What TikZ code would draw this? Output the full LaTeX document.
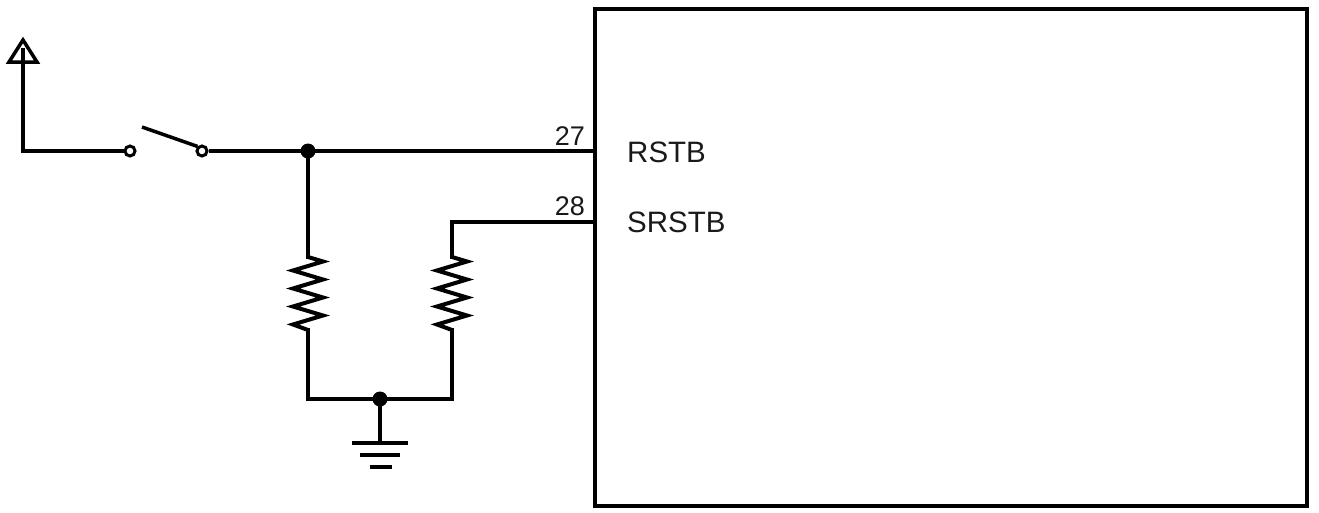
\documentclass[tikz,border=0pt]{standalone}
\usepackage{fontspec}
\setmainfont{Liberation Sans}
\begin{document}
\begin{tikzpicture}[x=1pt,y=-1pt,
  wire/.style={line width=3.5pt,line cap=rect,black},
  lead/.style={line width=4.5pt,black},
  dotnode/.style={circle,fill=black,inner sep=0pt,minimum size=15pt},
  opennode/.style={circle,draw=black,fill=white,line width=3pt,inner sep=0pt,minimum size=10pt},
  pinnum/.style={font=\fontsize{27}{30}\selectfont,text=black!90,anchor=base east,inner sep=0pt},
  pinname/.style={font=\fontsize{29.5}{34}\selectfont,text=black!90,anchor=base west,inner sep=0pt},
  gbar/.style={line width=4.5pt,black}]
\useasboundingbox (0,0) rectangle (1319,512);
% chip
\draw[line width=4pt] (595,9) rectangle (1307,506);
\coordinate (pinA) at (595,151);
\coordinate (pinB) at (595,222);
\node[pinnum] (n27) at (585,145) {27};
\node[pinnum] (n28) at (585,215) {28};
\node[pinname] (rstb) at (627,162) {RSTB};
\node[pinname] (srstb) at (627,232) {SRSTB};
% supply
\coordinate (vtop) at (23,50);
\coordinate (vcorner) at (23,151);
\draw[line width=3.5pt,line join=miter] (23,40) -- (37,62) -- (9,62) -- cycle;
\draw[wire] (vtop) -- (vcorner);
% switch
\coordinate (swl) at (93,151);
\coordinate (swr) at (240,151);
\node[opennode] (c1) at (130,151) {};
\node[opennode] (c2) at (202,151) {};
\draw[wire] (vcorner) -- (swl);
\draw[lead] (swl) -- (c1.west);
\draw[lead] (c2.east) -- (swr);
\draw[line width=3.5pt] (142,127) -- (c2.north west);
% junction
\node[dotnode] (j1) at (308,151) {};
\draw[wire] (swr) -- (j1);
\draw[wire] (j1) -- (pinA);
% resistor 1
\coordinate (r1t) at (308,257);
\coordinate (r1b) at (308,330);
\draw[wire] (j1) -- (r1t);
\draw[line width=4pt,line join=miter] (r1t) -- ++(15,4.5) -- ++(-30,9) -- ++(30,9) -- ++(-30,9) -- ++(30,9) -- ++(-30,9) -- ++(30,9) -- ++(-30,9) -- (r1b);
% resistor 2
\coordinate (r2c) at (452,222);
\coordinate (r2t) at (452,257);
\coordinate (r2b) at (452,330);
\draw[wire] (pinB) -- (r2c) -- (r2t);
\draw[line width=4pt,line join=miter] (r2t) -- ++(15,4.5) -- ++(-30,9) -- ++(30,9) -- ++(-30,9) -- ++(30,9) -- ++(-30,9) -- ++(30,9) -- ++(-30,9) -- (r2b);
% bottom
\coordinate (b1) at (308,399);
\coordinate (b2) at (452,399);
\node[dotnode] (j2) at (380,399) {};
\draw[wire] (r1b) -- (b1) -- (j2) -- (b2) -- (r2b);
% ground
\coordinate (g) at (380,443);
\draw[wire] (j2) -- (g);
\draw[gbar] (352,443) -- (408,443);
\draw[gbar] (360,455) -- (400,455);
\draw[gbar] (370,467) -- (392,467);
\end{tikzpicture}
\end{document}
